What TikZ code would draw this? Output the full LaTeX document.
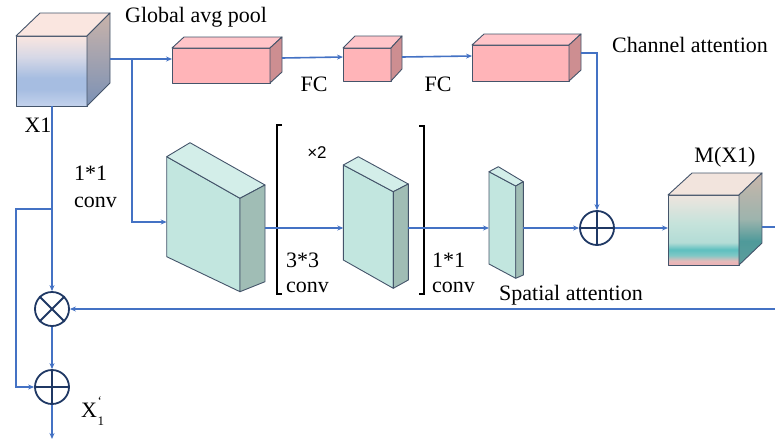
\documentclass[tikz,border=0pt]{standalone}
\usepackage{fontspec}
\setmainfont{Liberation Serif}
\newfontfamily\symfont{Liberation Sans}
\usetikzlibrary{arrows.meta}
\definecolor{lblue}{HTML}{4472C4}
\definecolor{edge}{HTML}{44546A}
\definecolor{circ}{HTML}{1F3864}
\definecolor{pinkF}{HTML}{FFB4B8}
\definecolor{pinkT}{HTML}{FFC5C9}
\definecolor{pinkS}{HTML}{CD8E91}
\definecolor{tealF}{HTML}{C2E6DF}
\definecolor{tealT}{HTML}{D3EEE9}
\definecolor{tealS}{HTML}{A0BDB5}
\definecolor{xa}{HTML}{C3D2EC}
\definecolor{xb}{HTML}{A6BDE1}
\definecolor{xc}{HTML}{D6D8E6}
\definecolor{xd}{HTML}{FAE6E0}
\definecolor{xtop}{HTML}{FAE6E0}
\definecolor{xsidet}{HTML}{C9B3AA}
\definecolor{xsideb}{HTML}{7B91B5}
\definecolor{ma}{HTML}{EDB2B5}
\definecolor{mb}{HTML}{E4BBBB}
\definecolor{mc}{HTML}{7FC8C5}
\definecolor{md}{HTML}{5DBFBF}
\definecolor{me}{HTML}{B3DCD6}
\definecolor{mf}{HTML}{C6E3DB}
\definecolor{mg}{HTML}{EEE4DE}
\definecolor{mtop}{HTML}{F2E4DD}
\definecolor{msa}{HTML}{5E9D9C}
\definecolor{msb}{HTML}{4F9A9A}
\definecolor{msc}{HTML}{9DB4AD}
\definecolor{msd}{HTML}{C8B5AA}
\pgfdeclareverticalshading{xonefront}{100bp}{color(0bp)=(xa); color(25bp)=(xa); color(37bp)=(xb); color(45bp)=(xb); color(60bp)=(xc); color(75bp)=(xd); color(100bp)=(xd)}
\pgfdeclareverticalshading{mfront}{100bp}{color(0bp)=(ma); color(25bp)=(ma); color(28bp)=(mb); color(32bp)=(mc); color(36bp)=(md); color(41bp)=(me); color(55bp)=(mf); color(75bp)=(mg); color(100bp)=(mg)}
\pgfdeclareverticalshading{mside}{100bp}{color(0bp)=(msa); color(25bp)=(msa); color(38bp)=(msb); color(50bp)=(msc); color(75bp)=(msd); color(100bp)=(msd)}
\tikzset{
  conn/.style={draw=lblue, line width=1.6pt, -{Stealth[length=6pt,width=5pt]}},
  plain/.style={draw=lblue, line width=1.6pt},
  face/.style={draw=edge, line width=0.9pt, line join=round},
  lab/.style={font=\fontsize{22}{25}\selectfont, inner sep=0pt},
  small/.style={font=\fontsize{13}{14}\selectfont, inner sep=0pt},
  opnode/.style={circle, draw=circ, line width=1.8pt, minimum size=34pt, inner sep=0pt},
  brk/.style={draw=black, line width=1.5pt}
}
\begin{document}
\begin{tikzpicture}[x=1pt,y=-1pt]
\useasboundingbox (0,0) rectangle (775,439);
% ---------- X1 cube ----------
\shade[shading=xonefront] (16,36) rectangle (87,106);
\draw[face] (16,36) rectangle (87,106);
\draw[face, fill=xtop] (16,36) -- (40,13) -- (110,13) -- (87,36) -- cycle;
\shade[top color=xsidet, bottom color=xsideb] (87,36) -- (110,13) -- (110,83) -- (87,106) -- cycle;
\draw[face] (87,36) -- (110,13) -- (110,83) -- (87,106) -- cycle;
\coordinate (x1r) at (110,59);
\coordinate (x1b) at (52,106);
% ---------- pink boxes ----------
\draw[face, fill=pinkF] (172,48) rectangle (270,83);
\draw[face, fill=pinkT] (172,48) -- (184,37) -- (282,37) -- (270,48) -- cycle;
\draw[face, fill=pinkS] (270,48) -- (282,37) -- (282,72) -- (270,83) -- cycle;
\coordinate (p1l) at (172,59);
\coordinate (p1r) at (282,58);
\draw[face, fill=pinkF] (343,48) rectangle (391,81);
\draw[face, fill=pinkT] (343,48) -- (355,36) -- (402,36) -- (391,48) -- cycle;
\draw[face, fill=pinkS] (391,48) -- (402,36) -- (402,69) -- (391,81) -- cycle;
\coordinate (p2l) at (343,57);
\coordinate (p2r) at (402,57);
\draw[face, fill=pinkF] (472,45) rectangle (569,81);
\draw[face, fill=pinkT] (472,45) -- (484,34) -- (581,34) -- (569,45) -- cycle;
\draw[face, fill=pinkS] (569,45) -- (581,34) -- (581,70) -- (569,81) -- cycle;
\coordinate (p3l) at (472,56);
\coordinate (p3r) at (581,53);
% ---------- teal boxes ----------
\draw[face, fill=tealF] (166.7,156.7) -- (240,198.3) -- (240,291.7) -- (166.7,256.7) -- cycle;
\draw[face, fill=tealT] (166.7,156.7) -- (190,142.7) -- (265,185) -- (240,198.3) -- cycle;
\draw[face, fill=tealS] (240,198.3) -- (265,185) -- (265,281.7) -- (240,291.7) -- cycle;
\coordinate (t1l) at (166.7,222);
\coordinate (t1r) at (265,228);
\draw[face, fill=tealF] (343.3,165) -- (393.3,191.7) -- (393.3,288.3) -- (343.3,260) -- cycle;
\draw[face, fill=tealT] (343.3,165) -- (358.3,156.7) -- (408.3,184) -- (393.3,191.7) -- cycle;
\draw[face, fill=tealS] (393.3,191.7) -- (408.3,184) -- (408.3,280) -- (393.3,288.3) -- cycle;
\coordinate (t2l) at (343.3,228);
\coordinate (t2r) at (408.3,228);
\draw[face, fill=tealF] (489,171.7) -- (515.7,186) -- (515.7,278.3) -- (489,264) -- cycle;
\draw[face, fill=tealT] (489,171.7) -- (498.3,166.7) -- (523.3,181.7) -- (515.7,186) -- cycle;
\draw[face, fill=tealS] (515.7,186) -- (523.3,181.7) -- (523.3,275) -- (515.7,278.3) -- cycle;
\coordinate (t3l) at (489,228);
\coordinate (t3r) at (523.3,228);
% ---------- M(X1) cube ----------
\shade[shading=mfront] (668,195) rectangle (739,265);
\draw[face] (668,195) rectangle (739,265);
\draw[face, fill=mtop] (668,195) -- (692,173) -- (762,173) -- (739,195) -- cycle;
\shade[shading=mside] (739,195) -- (762,173) -- (762,243) -- (739,265) -- cycle;
\draw[face] (739,195) -- (762,173) -- (762,243) -- (739,265) -- cycle;
\coordinate (ml) at (668,228);
\coordinate (mr) at (762,227);
\coordinate (redge) at (775,227);
\coordinate (redge2) at (775,309);
% ---------- operator circles ----------
\node[opnode] (sum1) at (597,228) {};
\draw[circ, line width=1.8pt] (sum1.north) -- (sum1.south) (sum1.west) -- (sum1.east);
\node[opnode] (mul) at (52,309) {};
\draw[circ, line width=1.8pt] (mul.north west) -- (mul.south east) (mul.north east) -- (mul.south west);
\node[opnode] (sum2) at (52,387) {};
\draw[circ, line width=1.8pt] (sum2.north) -- (sum2.south) (sum2.west) -- (sum2.east);
\coordinate (outend) at (52,439);
% ---------- brackets ----------
\draw[brk] (282,125) -- (277,125) -- (277,294) -- (282,294);
\draw[brk] (419,126) -- (424,126) -- (424,294) -- (419,294);
% ---------- connectors ----------
\coordinate (br1) at (132,59);
\coordinate (j1) at (52,209);
\draw[conn] (x1r) -- (p1l);
\draw[conn] (br1) |- (t1l);
\draw[conn] (p1r) -- (p2l);
\draw[conn] (p2r) -- (p3l);
\draw[conn] (p3r) -| (sum1.north);
\draw[conn] (t1r) -- (t2l);
\draw[conn] (t2r) -- (t3l);
\draw[conn] (t3r) -- (sum1.west);
\draw[conn] (sum1.east) -- (ml);
\draw[plain] (mr) -- (redge);
\draw[conn] (redge2) -- (mul.east);
\draw[conn] (x1b) -- (mul.north);
\draw[conn] (j1) -| (16,350) |- (sum2.west);
\draw[conn] (mul.south) -- (sum2.north);
\draw[conn] (sum2.south) -- (outend);
% ---------- labels ----------
\node[lab] (tgap) at (196,17) {Global avg pool};
\node[lab] (tfc1) at (314,84) {FC};
\node[lab] (tfc2) at (438,84) {FC};
\node[lab] (tca) at (690,45) {Channel attention};
\node[lab] (tx1) at (38,125) {X1};
\node[lab, anchor=west] (tc1a) at (74,173) {1*1};
\node[lab, anchor=west] (tc1b) at (74,202) {conv};
\node[inner sep=0pt, font=\symfont\fontsize{17}{19}\selectfont] (ttimes) at (317,153) {×2};
\node[lab, anchor=west] (tc3a) at (286,260) {3*3};
\node[lab, anchor=west] (tc3b) at (286,287) {conv};
\node[lab, anchor=west] (tc4a) at (432,260) {1*1};
\node[lab, anchor=west] (tc4b) at (432,287) {conv};
\node[lab] (tsa) at (571,295) {Spatial attention};
\node[lab] (tm) at (725,157) {M(X1)};
\node[lab, anchor=west] (txo) at (81,410) {X};
\node[small, anchor=west] (txq) at (97.5,401) {‘};
\node[small, anchor=west] (txs) at (97.5,421) {1};
\end{tikzpicture}
\end{document}
